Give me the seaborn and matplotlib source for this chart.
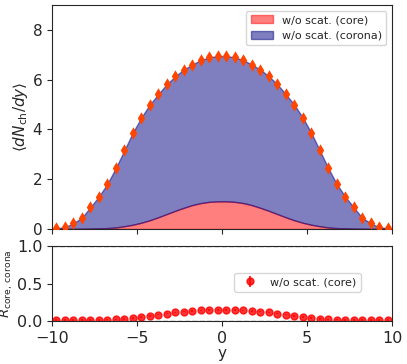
import numpy as np
import matplotlib
matplotlib.use("Agg")
import matplotlib.pyplot as plt
import seaborn as sns

# bin centres in rapidity
y_left = [-9.75, -9.25, -8.75, -8.25, -7.75, -7.25, -6.75, -6.25, -5.75, -5.25,
          -4.75, -4.25, -3.75, -3.25, -2.75, -2.25, -1.75, -1.25, -0.75, -0.25]
y = np.array(y_left + [-v for v in y_left[::-1]])

# total dN/dy (core + corona), left half then mirrored
total_left = [0.03, 0.07, 0.23, 0.45, 0.87, 1.30, 1.81, 2.45, 3.16, 3.87,
              4.48, 5.00, 5.42, 5.82, 6.14, 6.41, 6.61, 6.79, 6.90, 6.95]
total = np.array(total_left + total_left[::-1])

# core contribution
core_left = [0.0005, 0.001, 0.002, 0.005, 0.01, 0.02, 0.035, 0.06, 0.11, 0.17,
             0.25, 0.35, 0.47, 0.60, 0.73, 0.85, 0.96, 1.04, 1.09, 1.11]
core = np.array(core_left + core_left[::-1])
total_err = np.full(len(y), 0.12)

# core fraction
ratio_left = [0.012, 0.012, 0.012, 0.012, 0.013, 0.015, 0.018, 0.022, 0.03, 0.04,
              0.055, 0.07, 0.085, 0.10, 0.115, 0.125, 0.135, 0.143, 0.148, 0.15]
ratio = np.array(ratio_left + ratio_left[::-1])
ratio_err = np.full(len(y), 0.01)

sns.set_style("ticks")
plt.rcParams['font.family'] = ['DejaVu Sans']

fig = plt.figure(figsize=(4.07, 3.64), dpi=100)
ax1 = fig.add_axes([0.128, 0.371, 0.835, 0.615])
ax2 = fig.add_axes([0.128, 0.118, 0.835, 0.206])

ax1.fill_between(y, 0, core, color='red', alpha=0.5, label='w/o scat. (core)')
ax1.fill_between(y, core, total, color='navy', alpha=0.5, label='w/o scat. (corona)')
ax1.errorbar(y, total, yerr=total_err, fmt='none', ecolor='orangered', elinewidth=1.5)
sns.scatterplot(x=y, y=total, marker='d', color='orangered', s=40, linewidth=0,
                ax=ax1, legend=False, zorder=3)
ax1.set_xlim(-10, 10)
ax1.set_ylim(0, 9)
ax1.set_xticks([-10, -5, 0, 5, 10])
ax1.set_xticklabels([])
ax1.set_yticks([0, 2, 4, 6, 8])
ax1.tick_params(labelsize=11)
ax1.set_ylabel(r'$\langle dN_{\rm ch}/dy\rangle$', fontsize=11, labelpad=2)
ax1.legend(loc='upper right', fontsize=8)

ax2.axhline(0, color='gray', ls='--', lw=1)
ax2.axhline(1, color='gray', ls='--', lw=1)
ax2.errorbar(y, ratio, yerr=ratio_err, fmt='o', color='red', alpha=0.8,
             markersize=5, label='w/o scat. (core)')
ax2.set_xlim(-10, 10)
ax2.set_ylim(0, 1)
ax2.set_xticks([-10, -5, 0, 5, 10])
ax2.set_yticks([0, 0.5, 1.0])
ax2.tick_params(labelsize=11.5)
ax2.set_xlabel('y', fontsize=11, labelpad=0)
ax2.set_ylabel(r'$R_{\rm core,\,corona}$', fontsize=9.5, labelpad=1)
ax2.legend(loc='center left', bbox_to_anchor=(0.52, 0.52), fontsize=8)

for ax in (ax1, ax2):
    for s in ax.spines.values():
        s.set_visible(True)

fig.savefig('out.png', dpi=100)
